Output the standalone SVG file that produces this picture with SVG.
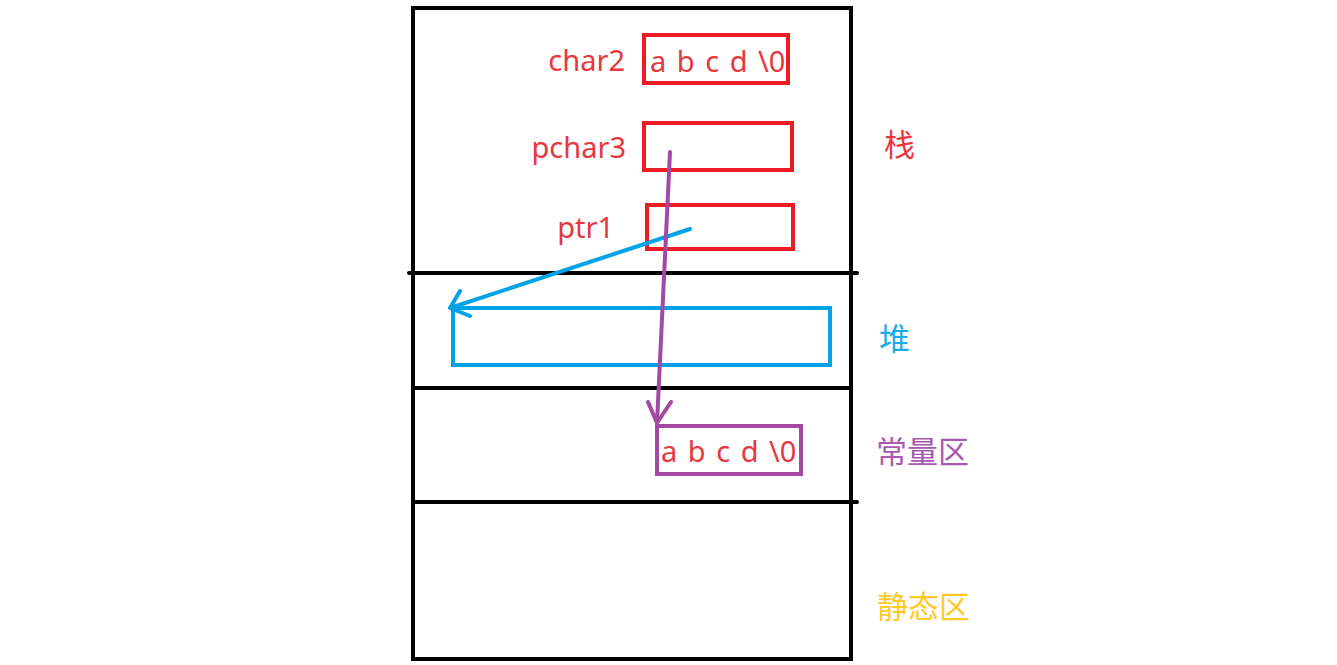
<svg xmlns="http://www.w3.org/2000/svg" width="1337" height="665" viewBox="0 0 1337 665">
<defs>
<style>
.blk{fill:none;stroke:#000;stroke-width:4}
.red{fill:none;stroke:#ED1C24;stroke-width:4}
.t{font-family:"Noto Sans","Noto Sans CJK SC",sans-serif;font-size:29px;fill:#E8373E}
.v{word-spacing:3px}
.cn{font-family:"Noto Sans CJK SC",sans-serif;font-size:31px}
</style>
</defs>
<rect width="1337" height="665" fill="#fff"/>
<g id="memory">
<rect class="blk" x="413" y="8" width="438" height="651"/>
<line class="blk" x1="409" y1="273" x2="857" y2="273" stroke-linecap="round"/>
<line class="blk" x1="413" y1="388" x2="851" y2="388"/>
<line class="blk" x1="413" y1="502" x2="857" y2="502" stroke-linecap="round"/>
</g>
<g id="char2">
<text class="t" x="625" y="71" text-anchor="end">char2</text>
<rect class="red" x="644" y="35" width="144" height="48"/>
<text class="t v" x="650" y="72">a b c d \0</text>
</g>
<g id="pchar3">
<text class="t" x="626" y="158" text-anchor="end">pchar3</text>
<rect class="red" x="644" y="123" width="148" height="47"/>
</g>
<g id="ptr1">
<text class="t" x="614" y="238" text-anchor="end">ptr1</text>
<rect class="red" x="647" y="205" width="146" height="44"/>
</g>
<g id="heap">
<rect x="453" y="308" width="377" height="57" fill="none" stroke="#00A2E8" stroke-width="4"/>
</g>
<g id="const">
<rect x="657" y="426" width="144" height="48" fill="none" stroke="#A349A4" stroke-width="4"/>
<text class="t v" x="661" y="462">a b c d \0</text>
</g>
<g id="labels">
<text class="cn" x="884" y="156" fill="#E8373E">栈</text>
<text class="cn" x="879" y="350" fill="#1AACE8">堆</text>
<text class="cn" x="876" y="463" fill="#A75AB0">常量区</text>
<text class="cn" x="877" y="618" fill="#FFCA28">静态区</text>
</g>
<g id="connectors" fill="none" stroke-linecap="round" stroke-linejoin="round" stroke-width="4">
<path d="M690 229 L450 308 M460 291 L450 308 L470 316" stroke="#00A2E8"/>
<path d="M670 152 L657 423 M648 402 L657 423 L671 402" stroke="#A349A4"/>
</g>
</svg>
